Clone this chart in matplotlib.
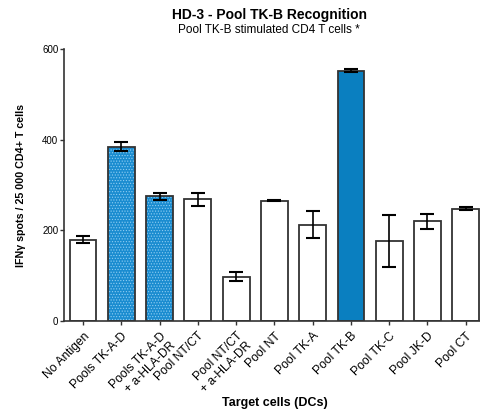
import numpy as np
import matplotlib.pyplot as plt

plt.rcParams['font.family'] = ['Liberation Sans', 'DejaVu Sans']
plt.rcParams['hatch.linewidth'] = 0.5

conditions = ["No Antigen", "Pools TK-A-D", "Pools TK-A-D\n+ a-HLA-DR", "Pool NT/CT",
              "Pool NT/CT\n+ a-HLA-DR", "Pool NT", "Pool TK-A", "Pool TK-B",
              "Pool TK-C", "Pool JK-D", "Pool CT"]
spots = [180, 385, 275, 269, 98, 266, 213, 553, 177, 220, 248]
sem = [7, 10, 7, 14, 10, 2, 30, 3, 57, 16, 3]
# 0 = plain, 1 = dotted blue, 2 = solid blue
style = [0, 1, 1, 0, 0, 0, 0, 2, 0, 0, 0]

fig = plt.figure(figsize=(4.81, 4.17), dpi=100)
ax = fig.add_axes([0.133, 0.230, 0.875, 0.652])

x = np.arange(len(conditions))
width = 0.7
edge = '#333333'

faces = ['white' if s == 0 else ('#1a8cd0' if s == 1 else '#0a7fc0') for s in style]
hatches = ['......' if s == 1 else '' for s in style]

# fill layer (light dots on the patterned bars)
ax.bar(x, spots, width, color=faces, hatch=hatches, edgecolor='#8fcdf2', linewidth=0, zorder=1)
# outline layer
ax.bar(x, spots, width, color='none', edgecolor=edge, linewidth=1.3, zorder=2)
ax.errorbar(x, spots, yerr=sem, fmt='none', ecolor='black', elinewidth=1.2,
            capsize=5, capthick=1.5, zorder=3)

ax.set_ylim(0, 600)
ax.set_xlim(-0.5, len(conditions) - 0.5)
ax.set_yticks([0, 200, 400, 600])
ax.tick_params(axis='y', labelsize=7, length=3, width=1, color=edge, pad=1)
ax.tick_params(axis='x', length=3, width=1, color=edge)
ax.set_xticks(x)
ax.set_xticklabels(conditions, rotation=45, ha='right', rotation_mode='anchor',
                   fontsize=8.7, multialignment='right')
for side in ['top', 'right']:
    ax.spines[side].set_visible(False)
for side in ['left', 'bottom']:
    ax.spines[side].set_linewidth(1.2)
    ax.spines[side].set_color(edge)

ax.set_ylabel('IFN\u03b3 spots / 25 000 CD4+ T cells', fontsize=7.7, fontweight='bold', labelpad=12)
fig.text(0.571, 0.034, 'Target cells (DCs)', ha='center', va='center', fontsize=9, fontweight='bold')
fig.text(0.56, 0.964, 'HD-3 - Pool TK-B Recognition', ha='center', va='center',
         fontsize=10, fontweight='bold')
fig.text(0.56, 0.928, 'Pool TK-B stimulated CD4 T cells *', ha='center', va='center', fontsize=8.5)

fig.savefig('out.png', dpi=100)
